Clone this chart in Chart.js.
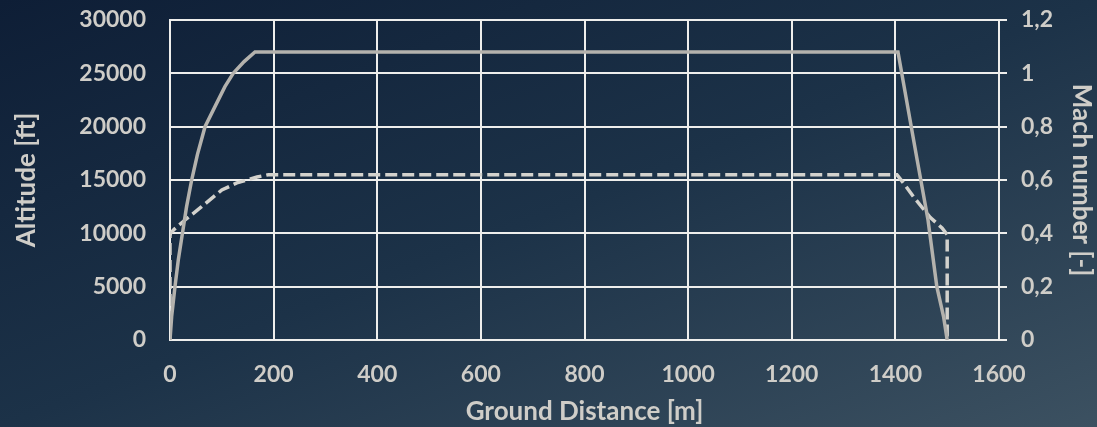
<!DOCTYPE html>
<html>
<head>
<meta charset="utf-8">
<script src="https://cdn.jsdelivr.net/npm/chart.js@4"></script>
<style>
  html, body { margin: 0; padding: 0; }
  body {
    width: 1097px; height: 427px; overflow: hidden;
    background: linear-gradient(to bottom right, #0e1e36 0%, #1c3248 50%, #3c5161 100%);
  }
  #wrap { width: 1097px; height: 427px; }
</style>
</head>
<body>
<div id="wrap"><canvas id="chart" width="1097" height="427"></canvas></div>
<script>
// ground distance [m] / altitude [ft]
const altDist = [0, 3.2, 9.6, 16, 24, 32, 41.8, 53, 67.6, 87, 106, 122, 143, 164, 1405, 1442, 1463, 1480, 1493, 1500];
const altValues = [0, 2200, 5000, 7500, 10000, 12500, 15000, 17400, 20000, 21900, 23750, 25000, 26100, 27000, 27000, 16900, 11250, 5000, 2200, 0];

// ground distance [m] / mach number
const machDist = [0, 0, 1, 8, 29, 61, 100, 129, 168, 190, 1403, 1415, 1435, 1467, 1490, 1500, 1500];
const machValues = [0, 0.39, 0.40, 0.415, 0.45, 0.50, 0.5625, 0.589, 0.611, 0.62, 0.62, 0.59, 0.537, 0.46, 0.42, 0.395, 0];

const machTickLabels = ['0', '0,2', '0,4', '0,6', '0,8', '1', '1,2'];

const txt = '#cfcdc8';
const gridCol = '#eeeeec';
const tickFont = { family: 'Lato', size: 23, weight: 'bold' };
const titleFont = { family: 'Lato', size: 26, weight: 'bold' };

const toPoints = (xs, ys) => xs.map((x, i) => ({ x: x, y: ys[i] }));

// vertical axes: no extra top/bottom room for the end labels
const fitVertical = width => s => {
    s.width = width;
    s.paddingTop = 0;
    s.paddingBottom = 0;
};

const ctx = document.getElementById('chart').getContext('2d');
new Chart(ctx, {
    type: 'scatter',
    data: {
        datasets: [{
            label: 'Altitude',
            data: toPoints(altDist, altValues),
            showLine: true,
            borderColor: '#b4b2ad',
            borderWidth: 3.5,
            pointRadius: 0,
            tension: 0,
            yAxisID: 'y'
        }, {
            label: 'Mach',
            data: toPoints(machDist, machValues),
            showLine: true,
            borderColor: '#d3d2cd',
            borderWidth: 3.5,
            borderDash: [12, 5],
            pointRadius: 0,
            tension: 0,
            yAxisID: 'y1'
        }]
    },
    options: {
        responsive: false,
        animation: false,
        layout: { padding: { top: 20, left: 0, right: 0, bottom: 0 } },
        plugins: {
            legend: { display: false },
            tooltip: { enabled: false }
        },
        scales: {
            x: {
                type: 'linear',
                min: 0,
                max: 1600,
                ticks: {
                    stepSize: 200,
                    color: txt,
                    font: tickFont,
                    padding: 21,
                    maxRotation: 0,
                    callback: v => String(v)
                },
                grid: { color: gridCol, lineWidth: 2, drawTicks: false },
                border: { color: gridCol, width: 2 },
                title: {
                    display: true,
                    text: 'Ground Distance [m]',
                    color: txt,
                    font: titleFont,
                    padding: { top: 4, bottom: 0 }
                },
                afterFit: s => {
                    s.height = 87;
                    s.paddingLeft = 0;
                    s.paddingRight = 0;
                }
            },
            y: {
                position: 'left',
                min: 0,
                max: 30000,
                ticks: {
                    stepSize: 5000,
                    color: txt,
                    font: tickFont,
                    padding: 24,
                    callback: v => String(v)
                },
                grid: { color: gridCol, lineWidth: 2, drawTicks: false },
                border: { color: gridCol, width: 2 },
                title: {
                    display: true,
                    text: 'Altitude [ft]',
                    color: txt,
                    font: titleFont,
                    padding: { top: 11, bottom: 0 }
                },
                afterFit: fitVertical(170)
            },
            y1: {
                position: 'right',
                min: 0,
                max: 1.2,
                ticks: {
                    stepSize: 0.2,
                    color: txt,
                    font: tickFont,
                    padding: 14,
                    callback: (v, i) => machTickLabels[i]
                },
                grid: { drawOnChartArea: false, color: gridCol, lineWidth: 2, tickLength: 8 },
                border: { color: gridCol, width: 2 },
                title: {
                    display: true,
                    text: 'Mach number [-]',
                    color: txt,
                    font: titleFont,
                    padding: { top: 0, bottom: 0 }
                },
                afterFit: fitVertical(98)
            }
        }
    }
});
</script>
</body>
</html>
